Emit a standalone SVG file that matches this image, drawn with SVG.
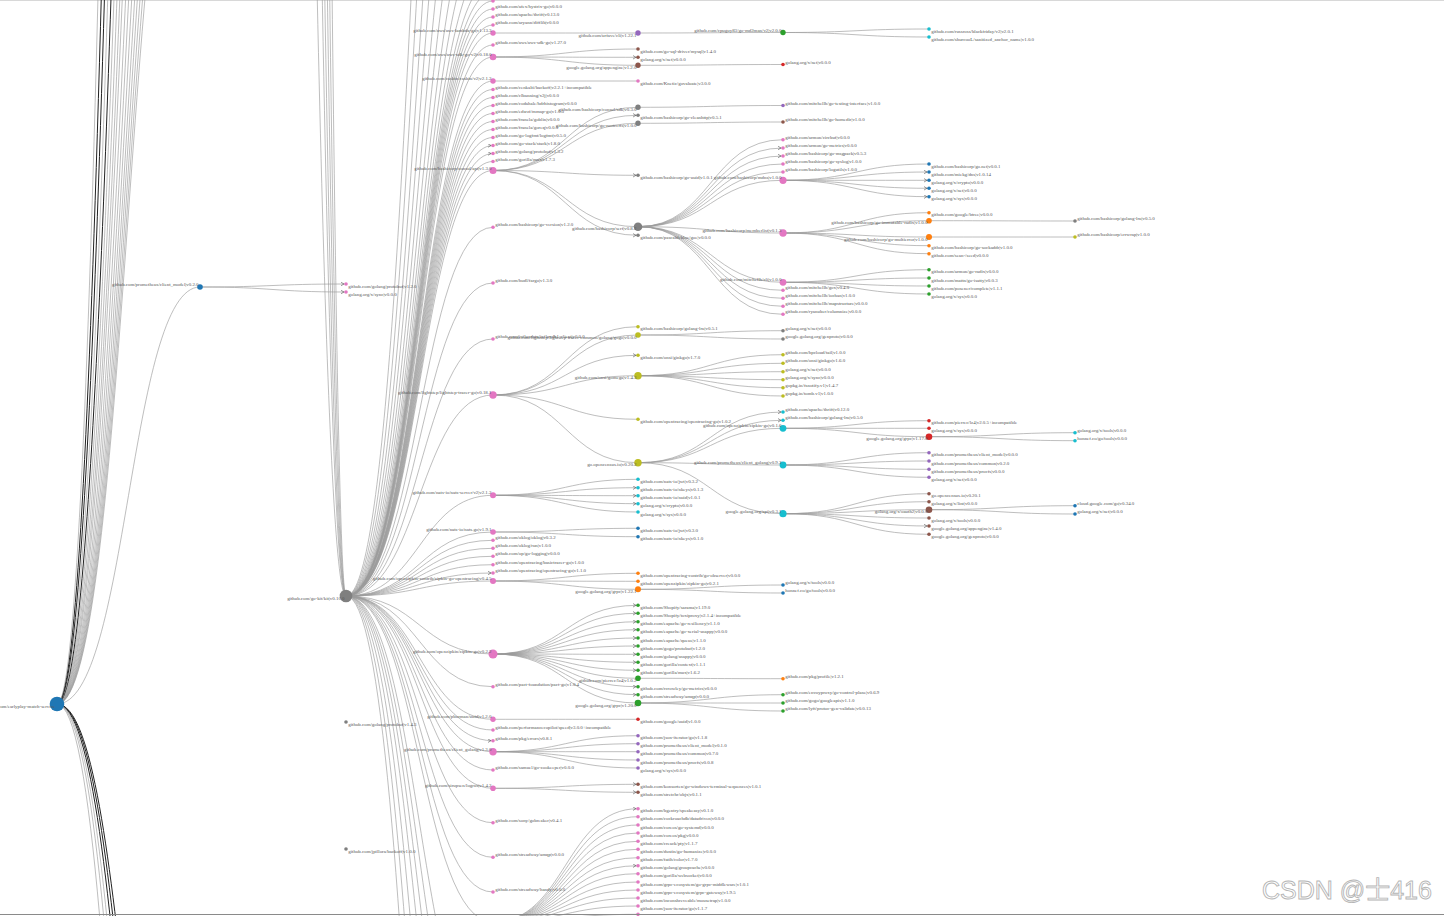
<svg xmlns="http://www.w3.org/2000/svg" width="1444" height="916" viewBox="0 0 1444 916">
<style>
.e{fill:none;stroke:#9a9a9a;stroke-width:.65}
.d{stroke:#222;stroke-width:1}
.ar{marker-end:url(#ar)}
text{font-family:"Liberation Serif",serif;font-size:4.9px;fill:#555}
.l{text-anchor:end}
.c0{fill:#1f77b4}.c1{fill:#ff7f0e}.c2{fill:#2ca02c}.c3{fill:#d62728}.c4{fill:#9467bd}
.c5{fill:#8c564b}.c6{fill:#e377c2}.c7{fill:#7f7f7f}.c8{fill:#bcbd22}.c9{fill:#17becf}
.wm{font-family:"Liberation Sans","Noto Sans CJK SC",sans-serif;font-size:25px;fill:#fff;stroke:#b5b5b5;stroke-width:.9}
</style>
<defs>
<marker id="ar" markerWidth="5" markerHeight="5" refX="5.5" refY="2" orient="auto" markerUnits="userSpaceOnUse"><path d="M0,0L3.5,2L0,4" fill="none" stroke="#555" stroke-width=".6"/></marker>
</defs>
<rect width="1444" height="916" fill="#fff"/>
<line x1="0" y1="0.5" x2="1444" y2="0.5" stroke="#d8d8d8"/>
<g id="links">
<path class="e" d="M57,704C128.5,704 128.5,287 200,287"/>
<path class="e" d="M57,704C128.5,704 128.5,-280 200,-280"/>
<path class="e" d="M57,704C128.5,704 128.5,-320 200,-320"/>
<path class="e" d="M57,704C128.5,704 128.5,-370 200,-370"/>
<path class="e" d="M57,704C128.5,704 128.5,-430 200,-430"/>
<path class="e" d="M57,704C128.5,704 128.5,-500 200,-500"/>
<path class="e" d="M57,704C128.5,704 128.5,-590 200,-590"/>
<path class="e" d="M57,704C128.5,704 128.5,-700 200,-700"/>
<path class="e" d="M57,704C128.5,704 128.5,-830 200,-830"/>
<path class="e" d="M57,704C128.5,704 128.5,-1000 200,-1000"/>
<path class="e" d="M57,704C128.5,704 128.5,-1150 200,-1150"/>
<path class="e" d="M57,704C128.5,704 128.5,-1350 200,-1350"/>
<path class="e" d="M57,704C128.5,704 128.5,-1600 200,-1600"/>
<path class="e d" d="M57,704C128.5,704 128.5,-1900 200,-1900"/>
<path class="e" d="M57,704C128.5,704 128.5,-2300 200,-2300"/>
<path class="e d" d="M57,704C128.5,704 128.5,-2800 200,-2800"/>
<path class="e d" d="M57,704C128.5,704 128.5,-3400 200,-3400"/>
<path class="e" d="M57,704C128.5,704 128.5,-4200 200,-4200"/>
<path class="e d" d="M57,704C128.5,704 128.5,1360 200,1360"/>
<path class="e d" d="M57,704C128.5,704 128.5,1430 200,1430"/>
<path class="e d" d="M57,704C128.5,704 128.5,1520 200,1520"/>
<path class="e" d="M57,704C128.5,704 128.5,1650 200,1650"/>
<path class="e" d="M57,704C128.5,704 128.5,1800 200,1800"/>
<path class="e" d="M57,704C128.5,704 128.5,2050 200,2050"/>
<path class="e" d="M200,-9000C273,-9000 273,596 346,596"/>
<path class="e" d="M200,-14000C273,-14000 273,596 346,596"/>
<path class="e" d="M200,-18000C273,-18000 273,596 346,596"/>
<path class="e" d="M200,-24000C273,-24000 273,596 346,596"/>
<path class="e" d="M200,-32000C273,-32000 273,596 346,596"/>
<path class="e" d="M200,-45000C273,-45000 273,596 346,596"/>
<path class="e ar" d="M200,287C273,287 273,284 346,284"/>
<path class="e ar" d="M200,287C273,287 273,292 346,292"/>
<path class="e" d="M346,596C419.5,596 419.5,-950 493,-950"/>
<path class="e" d="M346,596C419.5,596 419.5,-700 493,-700"/>
<path class="e" d="M346,596C419.5,596 419.5,-500 493,-500"/>
<path class="e" d="M346,596C419.5,596 419.5,-360 493,-360"/>
<path class="e" d="M346,596C419.5,596 419.5,-250 493,-250"/>
<path class="e" d="M346,596C419.5,596 419.5,-170 493,-170"/>
<path class="e" d="M346,596C419.5,596 419.5,-110 493,-110"/>
<path class="e" d="M346,596C419.5,596 419.5,-70 493,-70"/>
<path class="e" d="M346,596C419.5,596 419.5,-40 493,-40"/>
<path class="e" d="M346,596C419.5,596 419.5,-20 493,-20"/>
<path class="e" d="M346,596C419.5,596 419.5,-8 493,-8"/>
<path class="e" d="M346,596C419.5,596 419.5,1 493,1"/>
<path class="e" d="M346,596C419.5,596 419.5,9 493,9"/>
<path class="e" d="M346,596C419.5,596 419.5,17 493,17"/>
<path class="e" d="M346,596C419.5,596 419.5,25 493,25"/>
<path class="e" d="M346,596C419.5,596 419.5,33 493,33"/>
<path class="e" d="M346,596C419.5,596 419.5,45 493,45"/>
<path class="e" d="M346,596C419.5,596 419.5,57 493,57"/>
<path class="e" d="M346,596C419.5,596 419.5,81 493,81"/>
<path class="e" d="M346,596C419.5,596 419.5,89.5 493,89.5"/>
<path class="e" d="M346,596C419.5,596 419.5,97.5 493,97.5"/>
<path class="e" d="M346,596C419.5,596 419.5,105.5 493,105.5"/>
<path class="e" d="M346,596C419.5,596 419.5,113.5 493,113.5"/>
<path class="e" d="M346,596C419.5,596 419.5,121.5 493,121.5"/>
<path class="e" d="M346,596C419.5,596 419.5,129.5 493,129.5"/>
<path class="e" d="M346,596C419.5,596 419.5,137.5 493,137.5"/>
<path class="e ar" d="M346,596C419.5,596 419.5,145.5 493,145.5"/>
<path class="e ar" d="M346,596C419.5,596 419.5,153.5 493,153.5"/>
<path class="e" d="M346,596C419.5,596 419.5,161.5 493,161.5"/>
<path class="e" d="M346,596C419.5,596 419.5,170.5 493,170.5"/>
<path class="e" d="M346,596C419.5,596 419.5,227.3 493,227.3"/>
<path class="e" d="M346,596C419.5,596 419.5,283 493,283"/>
<path class="e" d="M346,596C419.5,596 419.5,339 493,339"/>
<path class="e" d="M346,596C419.5,596 419.5,395 493,395"/>
<path class="e" d="M346,596C419.5,596 419.5,495.3 493,495.3"/>
<path class="e" d="M346,596C419.5,596 419.5,532 493,532"/>
<path class="e" d="M346,596C419.5,596 419.5,540.3 493,540.3"/>
<path class="e" d="M346,596C419.5,596 419.5,548.3 493,548.3"/>
<path class="e" d="M346,596C419.5,596 419.5,556.3 493,556.3"/>
<path class="e" d="M346,596C419.5,596 419.5,564.7 493,564.7"/>
<path class="e ar" d="M346,596C419.5,596 419.5,573 493,573"/>
<path class="e" d="M346,596C419.5,596 419.5,581 493,581"/>
<path class="e" d="M346,596C419.5,596 419.5,654 493,654"/>
<path class="e" d="M346,596C419.5,596 419.5,686.7 493,686.7"/>
<path class="e" d="M346,596C419.5,596 419.5,719.3 493,719.3"/>
<path class="e" d="M346,596C419.5,596 419.5,730 493,730"/>
<path class="e ar" d="M346,596C419.5,596 419.5,740.7 493,740.7"/>
<path class="e" d="M346,596C419.5,596 419.5,751.7 493,751.7"/>
<path class="e" d="M346,596C419.5,596 419.5,770 493,770"/>
<path class="e" d="M346,596C419.5,596 419.5,788.3 493,788.3"/>
<path class="e" d="M346,596C419.5,596 419.5,822.7 493,822.7"/>
<path class="e" d="M346,596C419.5,596 419.5,857.3 493,857.3"/>
<path class="e" d="M346,596C419.5,596 419.5,892 493,892"/>
<path class="e" d="M346,596C419.5,596 419.5,922 493,922"/>
<path class="e" d="M346,596C419.5,596 419.5,1050 493,1050"/>
<path class="e" d="M346,596C419.5,596 419.5,1120 493,1120"/>
<path class="e" d="M346,596C419.5,596 419.5,1200 493,1200"/>
<path class="e" d="M346,596C419.5,596 419.5,1300 493,1300"/>
<path class="e" d="M346,596C419.5,596 419.5,1450 493,1450"/>
<path class="e" d="M346,596C419.5,596 419.5,1650 493,1650"/>
<path class="e" d="M346,596C419.5,596 419.5,1900 493,1900"/>
<path class="e" d="M493,33C565.5,33 565.5,33 638,33"/>
<path class="e" d="M493,57C565.5,57 565.5,49 638,49"/>
<path class="e ar" d="M493,57C565.5,57 565.5,57.3 638,57.3"/>
<path class="e" d="M493,57C565.5,57 565.5,65.3 638,65.3"/>
<path class="e" d="M493,81C565.5,81 565.5,81 638,81"/>
<path class="e" d="M493,170.5C565.5,170.5 565.5,107.3 638,107.3"/>
<path class="e ar" d="M493,170.5C565.5,170.5 565.5,115.3 638,115.3"/>
<path class="e" d="M493,170.5C565.5,170.5 565.5,123.3 638,123.3"/>
<path class="e ar" d="M493,170.5C565.5,170.5 565.5,175.3 638,175.3"/>
<path class="e" d="M493,170.5C565.5,170.5 565.5,226.7 638,226.7"/>
<path class="e ar" d="M493,170.5C565.5,170.5 565.5,235.3 638,235.3"/>
<path class="e" d="M493,395C565.5,395 565.5,326.7 638,326.7"/>
<path class="e" d="M493,395C565.5,395 565.5,335 638,335"/>
<path class="e ar" d="M493,395C565.5,395 565.5,355.3 638,355.3"/>
<path class="e" d="M493,395C565.5,395 565.5,375.7 638,375.7"/>
<path class="e" d="M493,395C565.5,395 565.5,419.3 638,419.3"/>
<path class="e" d="M493,395C565.5,395 565.5,462.7 638,462.7"/>
<path class="e" d="M493,495.3C565.5,495.3 565.5,479.3 638,479.3"/>
<path class="e ar" d="M493,495.3C565.5,495.3 565.5,487.7 638,487.7"/>
<path class="e ar" d="M493,495.3C565.5,495.3 565.5,495.7 638,495.7"/>
<path class="e ar" d="M493,495.3C565.5,495.3 565.5,503.7 638,503.7"/>
<path class="e" d="M493,495.3C565.5,495.3 565.5,512 638,512"/>
<path class="e" d="M493,532C565.5,532 565.5,528.3 638,528.3"/>
<path class="e" d="M493,532C565.5,532 565.5,536.7 638,536.7"/>
<path class="e" d="M493,581C565.5,581 565.5,573.3 638,573.3"/>
<path class="e" d="M493,581C565.5,581 565.5,581.3 638,581.3"/>
<path class="e" d="M493,581C565.5,581 565.5,589.3 638,589.3"/>
<path class="e ar" d="M493,654C565.5,654 565.5,605.3 638,605.3"/>
<path class="e ar" d="M493,654C565.5,654 565.5,613.3 638,613.3"/>
<path class="e ar" d="M493,654C565.5,654 565.5,621.7 638,621.7"/>
<path class="e ar" d="M493,654C565.5,654 565.5,629.7 638,629.7"/>
<path class="e ar" d="M493,654C565.5,654 565.5,638 638,638"/>
<path class="e ar" d="M493,654C565.5,654 565.5,646 638,646"/>
<path class="e ar" d="M493,654C565.5,654 565.5,654.3 638,654.3"/>
<path class="e ar" d="M493,654C565.5,654 565.5,662.3 638,662.3"/>
<path class="e ar" d="M493,654C565.5,654 565.5,670.3 638,670.3"/>
<path class="e" d="M493,654C565.5,654 565.5,678.3 638,678.3"/>
<path class="e ar" d="M493,654C565.5,654 565.5,686.7 638,686.7"/>
<path class="e ar" d="M493,654C565.5,654 565.5,694.7 638,694.7"/>
<path class="e" d="M493,654C565.5,654 565.5,703 638,703"/>
<path class="e" d="M493,719.3C565.5,719.3 565.5,719.3 638,719.3"/>
<path class="e" d="M493,751.7C565.5,751.7 565.5,735.7 638,735.7"/>
<path class="e" d="M493,751.7C565.5,751.7 565.5,743.7 638,743.7"/>
<path class="e" d="M493,751.7C565.5,751.7 565.5,751.7 638,751.7"/>
<path class="e" d="M493,751.7C565.5,751.7 565.5,760 638,760"/>
<path class="e" d="M493,751.7C565.5,751.7 565.5,768 638,768"/>
<path class="e ar" d="M493,788.3C565.5,788.3 565.5,784.3 638,784.3"/>
<path class="e ar" d="M493,788.3C565.5,788.3 565.5,792.3 638,792.3"/>
<path class="e ar" d="M493,922C565.5,922 565.5,808.7 638,808.7"/>
<path class="e" d="M493,922C565.5,922 565.5,816.7 638,816.7"/>
<path class="e" d="M493,922C565.5,922 565.5,825 638,825"/>
<path class="e" d="M493,922C565.5,922 565.5,833 638,833"/>
<path class="e" d="M493,922C565.5,922 565.5,841.3 638,841.3"/>
<path class="e" d="M493,922C565.5,922 565.5,849.3 638,849.3"/>
<path class="e" d="M493,922C565.5,922 565.5,857.7 638,857.7"/>
<path class="e ar" d="M493,922C565.5,922 565.5,865.7 638,865.7"/>
<path class="e" d="M493,922C565.5,922 565.5,873.7 638,873.7"/>
<path class="e" d="M493,922C565.5,922 565.5,882 638,882"/>
<path class="e" d="M493,922C565.5,922 565.5,890 638,890"/>
<path class="e" d="M493,922C565.5,922 565.5,898 638,898"/>
<path class="e" d="M493,922C565.5,922 565.5,906 638,906"/>
<path class="e" d="M493,922C565.5,922 565.5,914.3 638,914.3"/>
<path class="e" d="M493,922C565.5,922 565.5,922.5 638,922.5"/>
<path class="e" d="M638,33C710.5,33 710.5,32.5 783,32.5"/>
<path class="e" d="M638,65.3C710.5,65.3 710.5,64.5 783,64.5"/>
<path class="e" d="M638,107.3C710.5,107.3 710.5,105.5 783,105.5"/>
<path class="e" d="M638,123.3C710.5,123.3 710.5,122 783,122"/>
<path class="e" d="M638,226.7C710.5,226.7 710.5,139.7 783,139.7"/>
<path class="e ar" d="M638,226.7C710.5,226.7 710.5,148 783,148"/>
<path class="e ar" d="M638,226.7C710.5,226.7 710.5,156 783,156"/>
<path class="e" d="M638,226.7C710.5,226.7 710.5,164 783,164"/>
<path class="e" d="M638,226.7C710.5,226.7 710.5,172 783,172"/>
<path class="e" d="M638,226.7C710.5,226.7 710.5,180.3 783,180.3"/>
<path class="e" d="M638,226.7C710.5,226.7 710.5,233 783,233"/>
<path class="e" d="M638,226.7C710.5,226.7 710.5,282.3 783,282.3"/>
<path class="e" d="M638,226.7C710.5,226.7 710.5,290.3 783,290.3"/>
<path class="e" d="M638,226.7C710.5,226.7 710.5,298.3 783,298.3"/>
<path class="e" d="M638,226.7C710.5,226.7 710.5,306.3 783,306.3"/>
<path class="e" d="M638,226.7C710.5,226.7 710.5,314.3 783,314.3"/>
<path class="e" d="M638,335C710.5,335 710.5,330.7 783,330.7"/>
<path class="e" d="M638,335C710.5,335 710.5,339 783,339"/>
<path class="e" d="M638,375.7C710.5,375.7 710.5,354.7 783,354.7"/>
<path class="e" d="M638,375.7C710.5,375.7 710.5,363.3 783,363.3"/>
<path class="e" d="M638,375.7C710.5,375.7 710.5,371.7 783,371.7"/>
<path class="e" d="M638,375.7C710.5,375.7 710.5,379.7 783,379.7"/>
<path class="e" d="M638,375.7C710.5,375.7 710.5,387.7 783,387.7"/>
<path class="e" d="M638,375.7C710.5,375.7 710.5,396 783,396"/>
<path class="e ar" d="M638,462.7C710.5,462.7 710.5,412 783,412"/>
<path class="e ar" d="M638,462.7C710.5,462.7 710.5,420.3 783,420.3"/>
<path class="e" d="M638,462.7C710.5,462.7 710.5,428.3 783,428.3"/>
<path class="e" d="M638,462.7C710.5,462.7 710.5,465 783,465"/>
<path class="e" d="M638,462.7C710.5,462.7 710.5,513.7 783,513.7"/>
<path class="e" d="M638,589.3C710.5,589.3 710.5,585 783,585"/>
<path class="e" d="M638,589.3C710.5,589.3 710.5,593 783,593"/>
<path class="e" d="M638,678.3C710.5,678.3 710.5,678.7 783,678.7"/>
<path class="e" d="M638,703C710.5,703 710.5,694.7 783,694.7"/>
<path class="e" d="M638,703C710.5,703 710.5,703 783,703"/>
<path class="e" d="M638,703C710.5,703 710.5,711 783,711"/>
<path class="e" d="M783,32.5C856,32.5 856,29 929,29"/>
<path class="e" d="M783,32.5C856,32.5 856,37 929,37"/>
<path class="e" d="M783,180.3C856,180.3 856,164 929,164"/>
<path class="e ar" d="M783,180.3C856,180.3 856,172 929,172"/>
<path class="e ar" d="M783,180.3C856,180.3 856,180.3 929,180.3"/>
<path class="e ar" d="M783,180.3C856,180.3 856,188.3 929,188.3"/>
<path class="e ar" d="M783,180.3C856,180.3 856,196.7 929,196.7"/>
<path class="e" d="M783,233C856,233 856,212.7 929,212.7"/>
<path class="e" d="M783,233C856,233 856,220.7 929,220.7"/>
<path class="e" d="M783,233C856,233 856,237 929,237"/>
<path class="e" d="M783,233C856,233 856,245.7 929,245.7"/>
<path class="e" d="M783,233C856,233 856,253.7 929,253.7"/>
<path class="e" d="M783,282.3C856,282.3 856,269.7 929,269.7"/>
<path class="e" d="M783,282.3C856,282.3 856,278 929,278"/>
<path class="e" d="M783,282.3C856,282.3 856,286 929,286"/>
<path class="e" d="M783,282.3C856,282.3 856,294 929,294"/>
<path class="e" d="M783,428.3C856,428.3 856,420.7 929,420.7"/>
<path class="e" d="M783,428.3C856,428.3 856,428.3 929,428.3"/>
<path class="e" d="M783,428.3C856,428.3 856,436.7 929,436.7"/>
<path class="e" d="M783,465C856,465 856,452.7 929,452.7"/>
<path class="e" d="M783,465C856,465 856,461 929,461"/>
<path class="e" d="M783,465C856,465 856,469.3 929,469.3"/>
<path class="e" d="M783,465C856,465 856,477.3 929,477.3"/>
<path class="e" d="M783,513.7C856,513.7 856,493.7 929,493.7"/>
<path class="e" d="M783,513.7C856,513.7 856,501.7 929,501.7"/>
<path class="e" d="M783,513.7C856,513.7 856,509.7 929,509.7"/>
<path class="e" d="M783,513.7C856,513.7 856,518 929,518"/>
<path class="e ar" d="M783,513.7C856,513.7 856,526 929,526"/>
<path class="e" d="M783,513.7C856,513.7 856,534.3 929,534.3"/>
<path class="e" d="M929,220.7C1002,220.7 1002,221 1075,221"/>
<path class="e" d="M929,237C1002,237 1002,237 1075,237"/>
<path class="e" d="M929,436.7C1002,436.7 1002,432.7 1075,432.7"/>
<path class="e" d="M929,436.7C1002,436.7 1002,440.7 1075,440.7"/>
<path class="e" d="M929,509.7C1002,509.7 1002,505.7 1075,505.7"/>
<path class="e" d="M929,509.7C1002,509.7 1002,514 1075,514"/>
</g>
<g id="nodes">
<g id="root"><circle cx="57" cy="704" r="7.3" class="c0"/><text x="55" y="707.6" class="l">github.com/earlyplay-match-service</text></g>
<g id="cm"><circle cx="200" cy="287" r="2.8" class="c0"/><text x="198.5" y="286.1" class="l">github.com/prometheus/client_model|v0.2.0</text></g>
<g id="cm1"><circle cx="346" cy="284" r="1.8" class="c6"/><text x="348.3" y="287.7">github.com/golang/protobuf|v1.2.0</text></g>
<g id="cm2"><circle cx="346" cy="292" r="1.8" class="c6"/><text x="348.3" y="295.7">golang.org/x/sync|v0.0.0</text></g>
<g id="gokit"><circle cx="346" cy="596" r="6.3" class="c7"/><text x="344.5" y="599.7" class="l">github.com/go-kit/kit|v0.10.0</text></g>
<g id="pb"><circle cx="346" cy="722" r="1.8" class="c7"/><text x="348.3" y="725.7">github.com/golang/protobuf|v1.4.3</text></g>
<g id="bo"><circle cx="346" cy="849" r="1.8" class="c7"/><text x="348.3" y="852.7">github.com/jpillora/backoff|v1.0.0</text></g>

<g id="k0"><circle cx="493" cy="1" r="1.8" class="c6"/></g>
<g id="k1"><circle cx="493" cy="9" r="1.8" class="c6"/><text x="495.3" y="8.1">github.com/afex/hystrix-go|v0.0.0</text></g>
<g id="k2"><circle cx="493" cy="17" r="1.8" class="c6"/><text x="495.3" y="16.1">github.com/apache/thrift|v0.13.0</text></g>
<g id="k3"><circle cx="493" cy="25" r="1.8" class="c6"/><text x="495.3" y="24.1">github.com/aryann/difflib|v0.0.0</text></g>
<g id="k4"><circle cx="493" cy="33" r="2.7" class="c6"/><text x="491.5" y="32.1" class="l">github.com/aws/aws-lambda-go|v1.13.3</text></g>
<g id="k5"><circle cx="493" cy="45" r="1.8" class="c6"/><text x="495.3" y="44.1">github.com/aws/aws-sdk-go|v1.27.0</text></g>
<g id="k6"><circle cx="493" cy="57" r="3.3" class="c6"/><text x="491.5" y="56.1" class="l">github.com/aws/aws-sdk-go-v2|v0.18.0</text></g>
<g id="k7"><circle cx="493" cy="81" r="2.7" class="c6"/><text x="491.5" y="80.1" class="l">github.com/casbin/casbin/v2|v2.1.2</text></g>
<g id="k8"><circle cx="493" cy="89.5" r="1.8" class="c6"/><text x="495.3" y="88.6">github.com/cenkalti/backoff|v2.2.1+incompatible</text></g>
<g id="k9"><circle cx="493" cy="97.5" r="1.8" class="c6"/><text x="495.3" y="96.6">github.com/clbanning/x2j|v0.0.0</text></g>
<g id="k10"><circle cx="493" cy="105.5" r="1.8" class="c6"/><text x="495.3" y="104.6">github.com/codahale/hdrhistogram|v0.0.0</text></g>
<g id="k11"><circle cx="493" cy="113.5" r="1.8" class="c6"/><text x="495.3" y="112.6">github.com/edsrzf/mmap-go|v1.0.0</text></g>
<g id="k12"><circle cx="493" cy="121.5" r="1.8" class="c6"/><text x="495.3" y="120.6">github.com/franela/goblin|v0.0.0</text></g>
<g id="k13"><circle cx="493" cy="129.5" r="1.8" class="c6"/><text x="495.3" y="128.6">github.com/franela/goreq|v0.0.0</text></g>
<g id="k14"><circle cx="493" cy="137.5" r="1.8" class="c6"/><text x="495.3" y="136.6">github.com/go-logfmt/logfmt|v0.5.0</text></g>
<g id="k15"><circle cx="493" cy="145.5" r="1.8" class="c6"/><text x="495.3" y="144.6">github.com/go-stack/stack|v1.8.0</text></g>
<g id="k16"><circle cx="493" cy="153.5" r="1.8" class="c6"/><text x="495.3" y="152.6">github.com/golang/protobuf|v1.3.2</text></g>
<g id="k17"><circle cx="493" cy="161.5" r="1.8" class="c6"/><text x="495.3" y="160.6">github.com/gorilla/mux|v1.7.3</text></g>
<g id="k18"><circle cx="493" cy="170.5" r="3.5" class="c6"/><text x="491.5" y="169.6" class="l">github.com/hashicorp/consul/api|v1.3.0</text></g>
<g id="k19"><circle cx="493" cy="227.3" r="1.8" class="c6"/><text x="495.3" y="226.4">github.com/hashicorp/go-version|v1.2.0</text></g>
<g id="k20"><circle cx="493" cy="283" r="1.8" class="c6"/><text x="495.3" y="282.1">github.com/hudl/fargo|v1.3.0</text></g>
<g id="k21"><circle cx="493" cy="339" r="1.8" class="c6"/><text x="495.3" y="338.1">github.com/influxdata/influxdb1-client|v0.0.0</text></g>
<g id="k22"><circle cx="493" cy="395" r="3.7" class="c6"/><text x="491.5" y="394.1" class="l">github.com/lightstep/lightstep-tracer-go|v0.18.1</text></g>
<g id="k23"><circle cx="493" cy="495.3" r="3" class="c6"/><text x="491.5" y="494.4" class="l">github.com/nats-io/nats-server/v2|v2.1.2</text></g>
<g id="k24"><circle cx="493" cy="532" r="2.8" class="c6"/><text x="491.5" y="531.1" class="l">github.com/nats-io/nats.go|v1.9.1</text></g>
<g id="k25"><circle cx="493" cy="540.3" r="1.8" class="c6"/><text x="495.3" y="539.4">github.com/oklog/oklog|v0.3.2</text></g>
<g id="k26"><circle cx="493" cy="548.3" r="1.8" class="c6"/><text x="495.3" y="547.4">github.com/oklog/run|v1.0.0</text></g>
<g id="k27"><circle cx="493" cy="556.3" r="1.8" class="c6"/><text x="495.3" y="555.4">github.com/op/go-logging|v0.0.0</text></g>
<g id="k28"><circle cx="493" cy="564.7" r="1.8" class="c6"/><text x="495.3" y="563.8">github.com/opentracing/basictracer-go|v1.0.0</text></g>
<g id="k29"><circle cx="493" cy="573" r="1.8" class="c6"/><text x="495.3" y="572.1">github.com/opentracing/opentracing-go|v1.1.0</text></g>
<g id="k30"><circle cx="493" cy="581" r="3" class="c6"/><text x="491.5" y="580.1" class="l">github.com/openzipkin-contrib/zipkin-go-opentracing|v0.4.5</text></g>
<g id="k31"><circle cx="493" cy="654" r="4.5" class="c6"/><text x="491.5" y="653.1" class="l">github.com/openzipkin/zipkin-go|v0.2.2</text></g>
<g id="k32"><circle cx="493" cy="686.7" r="1.8" class="c6"/><text x="495.3" y="685.8">github.com/pact-foundation/pact-go|v1.0.4</text></g>
<g id="k33"><circle cx="493" cy="719.3" r="2.7" class="c6"/><text x="491.5" y="718.4" class="l">github.com/pborman/uuid|v1.2.0</text></g>
<g id="k34"><circle cx="493" cy="730" r="1.8" class="c6"/><text x="495.3" y="729.1">github.com/performancecopilot/speed|v3.0.0+incompatible</text></g>
<g id="k35"><circle cx="493" cy="740.7" r="1.8" class="c6"/><text x="495.3" y="739.8">github.com/pkg/errors|v0.8.1</text></g>
<g id="k36"><circle cx="493" cy="751.7" r="3.7" class="c6"/><text x="491.5" y="750.8" class="l">github.com/prometheus/client_golang|v1.3.0</text></g>
<g id="k37"><circle cx="493" cy="770" r="1.8" class="c6"/><text x="495.3" y="769.1">github.com/samuel/go-zookeeper|v0.0.0</text></g>
<g id="k38"><circle cx="493" cy="788.3" r="2.8" class="c6"/><text x="491.5" y="787.4" class="l">github.com/sirupsen/logrus|v1.4.2</text></g>
<g id="k39"><circle cx="493" cy="822.7" r="1.8" class="c6"/><text x="495.3" y="821.8">github.com/sony/gobreaker|v0.4.1</text></g>
<g id="k40"><circle cx="493" cy="857.3" r="1.8" class="c6"/><text x="495.3" y="856.4">github.com/streadway/amqp|v0.0.0</text></g>
<g id="k41"><circle cx="493" cy="892" r="1.8" class="c6"/><text x="495.3" y="891.1">github.com/streadway/handy|v0.0.0</text></g>

<g id="m1"><circle cx="638" cy="33" r="2.7" class="c4"/><text x="636.5" y="36.7" class="l">github.com/urfave/cli|v1.22.1</text></g>
<g id="m2"><circle cx="638" cy="49" r="1.8" class="c5"/><text x="640.3" y="52.7">github.com/go-sql-driver/mysql|v1.4.0</text></g>
<g id="m3"><circle cx="638" cy="57.3" r="1.8" class="c5"/><text x="640.3" y="61">golang.org/x/net|v0.0.0</text></g>
<g id="m4"><circle cx="638" cy="65.3" r="2.7" class="c5"/><text x="636.5" y="69" class="l">google.golang.org/appengine|v1.2.0</text></g>
<g id="m5"><circle cx="638" cy="81" r="1.8" class="c6"/><text x="640.3" y="84.7">github.com/Knetic/govaluate|v3.0.0</text></g>
<g id="m6"><circle cx="638" cy="107.3" r="2.7" class="c7"/><text x="636.5" y="111" class="l">github.com/hashicorp/consul/sdk|v0.3.0</text></g>
<g id="m7"><circle cx="638" cy="115.3" r="1.8" class="c7"/><text x="640.3" y="119">github.com/hashicorp/go-cleanhttp|v0.5.1</text></g>
<g id="m8"><circle cx="638" cy="123.3" r="2.7" class="c7"/><text x="636.5" y="127" class="l">github.com/hashicorp/go-rootcerts|v1.0.0</text></g>
<g id="m9"><circle cx="638" cy="175.3" r="1.8" class="c7"/><text x="640.3" y="179">github.com/hashicorp/go-uuid|v1.0.1</text></g>
<g id="m10"><circle cx="638" cy="226.7" r="4.3" class="c7"/><text x="636.5" y="230.4" class="l">github.com/hashicorp/serf|v0.8.2</text></g>
<g id="m11"><circle cx="638" cy="235.3" r="1.8" class="c7"/><text x="640.3" y="239">github.com/pascaldekloe/goe|v0.0.0</text></g>
<g id="m12"><circle cx="638" cy="326.7" r="1.8" class="c8"/><text x="640.3" y="330.4">github.com/hashicorp/golang-lru|v0.5.1</text></g>
<g id="m13"><circle cx="638" cy="335" r="2.8" class="c8"/><text x="636.5" y="338.7" class="l">github.com/lightstep/lightstep-tracer-common/golang/gogo|v0.0.0</text></g>
<g id="m14"><circle cx="638" cy="355.3" r="1.8" class="c8"/><text x="640.3" y="359">github.com/onsi/ginkgo|v1.7.0</text></g>
<g id="m15"><circle cx="638" cy="375.7" r="3.7" class="c8"/><text x="636.5" y="379.4" class="l">github.com/onsi/gomega|v1.4.3</text></g>
<g id="m16"><circle cx="638" cy="419.3" r="1.8" class="c8"/><text x="640.3" y="423">github.com/opentracing/opentracing-go|v1.0.2</text></g>
<g id="m17"><circle cx="638" cy="462.7" r="3.7" class="c8"/><text x="636.5" y="466.4" class="l">go.opencensus.io|v0.20.2</text></g>
<g id="m18"><circle cx="638" cy="479.3" r="1.8" class="c9"/><text x="640.3" y="483">github.com/nats-io/jwt|v0.3.2</text></g>
<g id="m19"><circle cx="638" cy="487.7" r="1.8" class="c9"/><text x="640.3" y="491.4">github.com/nats-io/nkeys|v0.1.3</text></g>
<g id="m20"><circle cx="638" cy="495.7" r="1.8" class="c9"/><text x="640.3" y="499.4">github.com/nats-io/nuid|v1.0.1</text></g>
<g id="m21"><circle cx="638" cy="503.7" r="1.8" class="c9"/><text x="640.3" y="507.4">golang.org/x/crypto|v0.0.0</text></g>
<g id="m22"><circle cx="638" cy="512" r="1.8" class="c9"/><text x="640.3" y="515.7">golang.org/x/sys|v0.0.0</text></g>
<g id="m23"><circle cx="638" cy="528.3" r="1.8" class="c0"/><text x="640.3" y="532">github.com/nats-io/jwt|v0.3.0</text></g>
<g id="m24"><circle cx="638" cy="536.7" r="1.8" class="c0"/><text x="640.3" y="540.4">github.com/nats-io/nkeys|v0.1.0</text></g>
<g id="m25"><circle cx="638" cy="573.3" r="1.8" class="c1"/><text x="640.3" y="577">github.com/opentracing-contrib/go-observer|v0.0.0</text></g>
<g id="m26"><circle cx="638" cy="581.3" r="1.8" class="c1"/><text x="640.3" y="585">github.com/openzipkin/zipkin-go|v0.2.1</text></g>
<g id="m27"><circle cx="638" cy="589.3" r="3" class="c1"/><text x="636.5" y="593" class="l">google.golang.org/grpc|v1.22.1</text></g>
<g id="m28"><circle cx="638" cy="605.3" r="1.8" class="c2"/><text x="640.3" y="609">github.com/Shopify/sarama|v1.19.0</text></g>
<g id="m29"><circle cx="638" cy="613.3" r="1.8" class="c2"/><text x="640.3" y="617">github.com/Shopify/toxiproxy|v2.1.4+incompatible</text></g>
<g id="m30"><circle cx="638" cy="621.7" r="1.8" class="c2"/><text x="640.3" y="625.4">github.com/eapache/go-resiliency|v1.1.0</text></g>
<g id="m31"><circle cx="638" cy="629.7" r="1.8" class="c2"/><text x="640.3" y="633.4">github.com/eapache/go-xerial-snappy|v0.0.0</text></g>
<g id="m32"><circle cx="638" cy="638" r="1.8" class="c2"/><text x="640.3" y="641.7">github.com/eapache/queue|v1.1.0</text></g>
<g id="m33"><circle cx="638" cy="646" r="1.8" class="c2"/><text x="640.3" y="649.7">github.com/gogo/protobuf|v1.2.0</text></g>
<g id="m34"><circle cx="638" cy="654.3" r="1.8" class="c2"/><text x="640.3" y="658">github.com/golang/snappy|v0.0.0</text></g>
<g id="m35"><circle cx="638" cy="662.3" r="1.8" class="c2"/><text x="640.3" y="666">github.com/gorilla/context|v1.1.1</text></g>
<g id="m36"><circle cx="638" cy="670.3" r="1.8" class="c2"/><text x="640.3" y="674">github.com/gorilla/mux|v1.6.2</text></g>
<g id="m37"><circle cx="638" cy="678.3" r="2.8" class="c2"/><text x="636.5" y="682" class="l">github.com/pierrec/lz4|v1.0.2</text></g>
<g id="m38"><circle cx="638" cy="686.7" r="1.8" class="c2"/><text x="640.3" y="690.4">github.com/rcrowley/go-metrics|v0.0.0</text></g>
<g id="m39"><circle cx="638" cy="694.7" r="1.8" class="c2"/><text x="640.3" y="698.4">github.com/streadway/amqp|v0.0.0</text></g>
<g id="m40"><circle cx="638" cy="703" r="3.3" class="c2"/><text x="636.5" y="706.7" class="l">google.golang.org/grpc|v1.20.0</text></g>
<g id="m41"><circle cx="638" cy="719.3" r="1.8" class="c3"/><text x="640.3" y="723">github.com/google/uuid|v1.0.0</text></g>
<g id="m42"><circle cx="638" cy="735.7" r="1.8" class="c4"/><text x="640.3" y="739.4">github.com/json-iterator/go|v1.1.8</text></g>
<g id="m43"><circle cx="638" cy="743.7" r="1.8" class="c4"/><text x="640.3" y="747.4">github.com/prometheus/client_model|v0.1.0</text></g>
<g id="m44"><circle cx="638" cy="751.7" r="1.8" class="c4"/><text x="640.3" y="755.4">github.com/prometheus/common|v0.7.0</text></g>
<g id="m45"><circle cx="638" cy="760" r="1.8" class="c4"/><text x="640.3" y="763.7">github.com/prometheus/procfs|v0.0.8</text></g>
<g id="m46"><circle cx="638" cy="768" r="1.8" class="c4"/><text x="640.3" y="771.7">golang.org/x/sys|v0.0.0</text></g>
<g id="m47"><circle cx="638" cy="784.3" r="1.8" class="c5"/><text x="640.3" y="788">github.com/konsorten/go-windows-terminal-sequences|v1.0.1</text></g>
<g id="m48"><circle cx="638" cy="792.3" r="1.8" class="c5"/><text x="640.3" y="796">github.com/stretchr/objx|v0.1.1</text></g>
<g id="m49"><circle cx="638" cy="808.7" r="1.8" class="c6"/><text x="640.3" y="812.4">github.com/bgentry/speakeasy|v0.1.0</text></g>
<g id="m50"><circle cx="638" cy="816.7" r="1.8" class="c6"/><text x="640.3" y="820.4">github.com/cockroachdb/datadriven|v0.0.0</text></g>
<g id="m51"><circle cx="638" cy="825" r="1.8" class="c6"/><text x="640.3" y="828.7">github.com/coreos/go-systemd|v0.0.0</text></g>
<g id="m52"><circle cx="638" cy="833" r="1.8" class="c6"/><text x="640.3" y="836.7">github.com/coreos/pkg|v0.0.0</text></g>
<g id="m53"><circle cx="638" cy="841.3" r="1.8" class="c6"/><text x="640.3" y="845">github.com/creack/pty|v1.1.7</text></g>
<g id="m54"><circle cx="638" cy="849.3" r="1.8" class="c6"/><text x="640.3" y="853">github.com/dustin/go-humanize|v0.0.0</text></g>
<g id="m55"><circle cx="638" cy="857.7" r="1.8" class="c6"/><text x="640.3" y="861.4">github.com/fatih/color|v1.7.0</text></g>
<g id="m56"><circle cx="638" cy="865.7" r="1.8" class="c6"/><text x="640.3" y="869.4">github.com/golang/groupcache|v0.0.0</text></g>
<g id="m57"><circle cx="638" cy="873.7" r="1.8" class="c6"/><text x="640.3" y="877.4">github.com/gorilla/websocket|v0.0.0</text></g>
<g id="m58"><circle cx="638" cy="882" r="1.8" class="c6"/><text x="640.3" y="885.7">github.com/grpc-ecosystem/go-grpc-middleware|v1.0.1</text></g>
<g id="m59"><circle cx="638" cy="890" r="1.8" class="c6"/><text x="640.3" y="893.7">github.com/grpc-ecosystem/grpc-gateway|v1.9.5</text></g>
<g id="m60"><circle cx="638" cy="898" r="1.8" class="c6"/><text x="640.3" y="901.7">github.com/inconshreveable/mousetrap|v1.0.0</text></g>
<g id="m61"><circle cx="638" cy="906" r="1.8" class="c6"/><text x="640.3" y="909.7">github.com/json-iterator/go|v1.1.7</text></g>
<g id="m62"><circle cx="638" cy="914.3" r="1.8" class="c6"/></g>

<g id="p1"><circle cx="783" cy="32.5" r="2.7" class="c2"/><text x="781.5" y="31.6" class="l">github.com/cpuguy83/go-md2man/v2|v2.0.0</text></g>
<g id="p2"><circle cx="783" cy="64.5" r="1.8" class="c3"/><text x="785.3" y="63.6">golang.org/x/net|v0.0.0</text></g>
<g id="p3"><circle cx="783" cy="105.5" r="1.8" class="c4"/><text x="785.3" y="104.6">github.com/mitchellh/go-testing-interface|v1.0.0</text></g>
<g id="p4"><circle cx="783" cy="122" r="1.8" class="c5"/><text x="785.3" y="121.1">github.com/mitchellh/go-homedir|v1.0.0</text></g>
<g id="p5"><circle cx="783" cy="139.7" r="1.8" class="c6"/><text x="785.3" y="138.8">github.com/armon/circbuf|v0.0.0</text></g>
<g id="p6"><circle cx="783" cy="148" r="1.8" class="c6"/><text x="785.3" y="147.1">github.com/armon/go-metrics|v0.0.0</text></g>
<g id="p7"><circle cx="783" cy="156" r="1.8" class="c6"/><text x="785.3" y="155.1">github.com/hashicorp/go-msgpack|v0.5.3</text></g>
<g id="p8"><circle cx="783" cy="164" r="1.8" class="c6"/><text x="785.3" y="163.1">github.com/hashicorp/go-syslog|v1.0.0</text></g>
<g id="p9"><circle cx="783" cy="172" r="1.8" class="c6"/><text x="785.3" y="171.1">github.com/hashicorp/logutils|v1.0.0</text></g>
<g id="p10"><circle cx="783" cy="180.3" r="3.6" class="c6"/><text x="781.5" y="179.4" class="l">github.com/hashicorp/mdns|v1.0.0</text></g>
<g id="p11"><circle cx="783" cy="233" r="3.7" class="c6"/><text x="781.5" y="232.1" class="l">github.com/hashicorp/memberlist|v0.1.3</text></g>
<g id="p12"><circle cx="783" cy="282.3" r="3.4" class="c6"/><text x="781.5" y="281.4" class="l">github.com/mitchellh/cli|v1.0.0</text></g>
<g id="p13"><circle cx="783" cy="290.3" r="1.8" class="c6"/><text x="785.3" y="289.4">github.com/mitchellh/gox|v0.4.0</text></g>
<g id="p14"><circle cx="783" cy="298.3" r="1.8" class="c6"/><text x="785.3" y="297.4">github.com/mitchellh/iochan|v1.0.0</text></g>
<g id="p15"><circle cx="783" cy="306.3" r="1.8" class="c6"/><text x="785.3" y="305.4">github.com/mitchellh/mapstructure|v0.0.0</text></g>
<g id="p16"><circle cx="783" cy="314.3" r="1.8" class="c6"/><text x="785.3" y="313.4">github.com/ryanuber/columnize|v0.0.0</text></g>
<g id="p17"><circle cx="783" cy="330.7" r="1.8" class="c7"/><text x="785.3" y="329.8">golang.org/x/net|v0.0.0</text></g>
<g id="p18"><circle cx="783" cy="339" r="1.8" class="c7"/><text x="785.3" y="338.1">google.golang.org/genproto|v0.0.0</text></g>
<g id="p19"><circle cx="783" cy="354.7" r="1.8" class="c8"/><text x="785.3" y="353.8">github.com/hpcloud/tail|v1.0.0</text></g>
<g id="p20"><circle cx="783" cy="363.3" r="1.8" class="c8"/><text x="785.3" y="362.4">github.com/onsi/ginkgo|v1.6.0</text></g>
<g id="p21"><circle cx="783" cy="371.7" r="1.8" class="c8"/><text x="785.3" y="370.8">golang.org/x/net|v0.0.0</text></g>
<g id="p22"><circle cx="783" cy="379.7" r="1.8" class="c8"/><text x="785.3" y="378.8">golang.org/x/sync|v0.0.0</text></g>
<g id="p23"><circle cx="783" cy="387.7" r="1.8" class="c8"/><text x="785.3" y="386.8">gopkg.in/fsnotify.v1|v1.4.7</text></g>
<g id="p24"><circle cx="783" cy="396" r="1.8" class="c8"/><text x="785.3" y="395.1">gopkg.in/tomb.v1|v1.0.0</text></g>
<g id="p25"><circle cx="783" cy="412" r="1.8" class="c9"/><text x="785.3" y="411.1">github.com/apache/thrift|v0.12.0</text></g>
<g id="p26"><circle cx="783" cy="420.3" r="1.8" class="c9"/><text x="785.3" y="419.4">github.com/hashicorp/golang-lru|v0.5.0</text></g>
<g id="p27"><circle cx="783" cy="428.3" r="3.4" class="c9"/><text x="781.5" y="427.4" class="l">github.com/openzipkin/zipkin-go|v0.1.6</text></g>
<g id="p28"><circle cx="783" cy="465" r="3.4" class="c9"/><text x="781.5" y="464.1" class="l">github.com/prometheus/client_golang|v0.9.3</text></g>
<g id="p29"><circle cx="783" cy="513.7" r="3.6" class="c9"/><text x="781.5" y="512.8" class="l">google.golang.org/api|v0.3.1</text></g>
<g id="p30"><circle cx="783" cy="585" r="1.8" class="c0"/><text x="785.3" y="584.1">golang.org/x/tools|v0.0.0</text></g>
<g id="p31"><circle cx="783" cy="593" r="1.8" class="c0"/><text x="785.3" y="592.1">honnef.co/go/tools|v0.0.0</text></g>
<g id="p32"><circle cx="783" cy="678.7" r="1.8" class="c1"/><text x="785.3" y="677.8">github.com/pkg/profile|v1.2.1</text></g>
<g id="p33"><circle cx="783" cy="694.7" r="1.8" class="c2"/><text x="785.3" y="693.8">github.com/envoyproxy/go-control-plane|v0.6.9</text></g>
<g id="p34"><circle cx="783" cy="703" r="1.8" class="c2"/><text x="785.3" y="702.1">github.com/gogo/googleapis|v1.1.0</text></g>
<g id="p35"><circle cx="783" cy="711" r="1.8" class="c2"/><text x="785.3" y="710.1">github.com/lyft/protoc-gen-validate|v0.0.13</text></g>

<g id="q1"><circle cx="929" cy="29" r="1.8" class="c9"/><text x="931.3" y="32.7">github.com/russross/blackfriday/v2|v2.0.1</text></g>
<g id="q2"><circle cx="929" cy="37" r="1.8" class="c9"/><text x="931.3" y="40.7">github.com/shurcooL/sanitized_anchor_name|v1.0.0</text></g>
<g id="q3"><circle cx="929" cy="164" r="1.8" class="c0"/><text x="931.3" y="167.7">github.com/hashicorp/go.net|v0.0.1</text></g>
<g id="q4"><circle cx="929" cy="172" r="1.8" class="c0"/><text x="931.3" y="175.7">github.com/miekg/dns|v1.0.14</text></g>
<g id="q5"><circle cx="929" cy="180.3" r="1.8" class="c0"/><text x="931.3" y="184">golang.org/x/crypto|v0.0.0</text></g>
<g id="q6"><circle cx="929" cy="188.3" r="1.8" class="c0"/><text x="931.3" y="192">golang.org/x/net|v0.0.0</text></g>
<g id="q7"><circle cx="929" cy="196.7" r="1.8" class="c0"/><text x="931.3" y="200.4">golang.org/x/sys|v0.0.0</text></g>
<g id="q8"><circle cx="929" cy="212.7" r="1.8" class="c1"/><text x="931.3" y="216.4">github.com/google/btree|v0.0.0</text></g>
<g id="q9"><circle cx="929" cy="220.7" r="2.8" class="c1"/><text x="927.5" y="224.4" class="l">github.com/hashicorp/go-immutable-radix|v1.0.0</text></g>
<g id="q10"><circle cx="929" cy="237" r="3" class="c1"/><text x="927.5" y="240.7" class="l">github.com/hashicorp/go-multierror|v1.0.0</text></g>
<g id="q11"><circle cx="929" cy="245.7" r="1.8" class="c1"/><text x="931.3" y="249.4">github.com/hashicorp/go-sockaddr|v1.0.0</text></g>
<g id="q12"><circle cx="929" cy="253.7" r="1.8" class="c1"/><text x="931.3" y="257.4">github.com/sean-/seed|v0.0.0</text></g>
<g id="q13"><circle cx="929" cy="269.7" r="1.8" class="c2"/><text x="931.3" y="273.4">github.com/armon/go-radix|v0.0.0</text></g>
<g id="q14"><circle cx="929" cy="278" r="1.8" class="c2"/><text x="931.3" y="281.7">github.com/mattn/go-isatty|v0.0.3</text></g>
<g id="q15"><circle cx="929" cy="286" r="1.8" class="c2"/><text x="931.3" y="289.7">github.com/posener/complete|v1.1.1</text></g>
<g id="q16"><circle cx="929" cy="294" r="1.8" class="c2"/><text x="931.3" y="297.7">golang.org/x/sys|v0.0.0</text></g>
<g id="q17"><circle cx="929" cy="420.7" r="1.8" class="c3"/><text x="931.3" y="424.4">github.com/pierrec/lz4|v2.0.5+incompatible</text></g>
<g id="q18"><circle cx="929" cy="428.3" r="1.8" class="c3"/><text x="931.3" y="432">golang.org/x/sys|v0.0.0</text></g>
<g id="q19"><circle cx="929" cy="436.7" r="3.3" class="c3"/><text x="927.5" y="440.4" class="l">google.golang.org/grpc|v1.17.0</text></g>
<g id="q20"><circle cx="929" cy="452.7" r="1.8" class="c4"/><text x="931.3" y="456.4">github.com/prometheus/client_model|v0.0.0</text></g>
<g id="q21"><circle cx="929" cy="461" r="1.8" class="c4"/><text x="931.3" y="464.7">github.com/prometheus/common|v0.2.0</text></g>
<g id="q22"><circle cx="929" cy="469.3" r="1.8" class="c4"/><text x="931.3" y="473">github.com/prometheus/procfs|v0.0.0</text></g>
<g id="q23"><circle cx="929" cy="477.3" r="1.8" class="c4"/><text x="931.3" y="481">golang.org/x/net|v0.0.0</text></g>
<g id="q24"><circle cx="929" cy="493.7" r="1.8" class="c5"/><text x="931.3" y="497.4">go.opencensus.io|v0.20.1</text></g>
<g id="q25"><circle cx="929" cy="501.7" r="1.8" class="c5"/><text x="931.3" y="505.4">golang.org/x/lint|v0.0.0</text></g>
<g id="q26"><circle cx="929" cy="509.7" r="3.3" class="c5"/><text x="927.5" y="513.4" class="l">golang.org/x/oauth2|v0.0.0</text></g>
<g id="q27"><circle cx="929" cy="518" r="1.8" class="c5"/><text x="931.3" y="521.7">golang.org/x/tools|v0.0.0</text></g>
<g id="q28"><circle cx="929" cy="526" r="1.8" class="c5"/><text x="931.3" y="529.7">google.golang.org/appengine|v1.4.0</text></g>
<g id="q29"><circle cx="929" cy="534.3" r="1.8" class="c5"/><text x="931.3" y="538">google.golang.org/genproto|v0.0.0</text></g>

<g id="r1"><circle cx="1075" cy="221" r="1.8" class="c7"/><text x="1077.3" y="220.1">github.com/hashicorp/golang-lru|v0.5.0</text></g>
<g id="r2"><circle cx="1075" cy="237" r="1.8" class="c8"/><text x="1077.3" y="236.1">github.com/hashicorp/errwrap|v1.0.0</text></g>
<g id="r3"><circle cx="1075" cy="432.7" r="1.8" class="c9"/><text x="1077.3" y="431.8">golang.org/x/tools|v0.0.0</text></g>
<g id="r4"><circle cx="1075" cy="440.7" r="1.8" class="c9"/><text x="1077.3" y="439.8">honnef.co/go/tools|v0.0.0</text></g>
<g id="r5"><circle cx="1075" cy="505.7" r="1.8" class="c0"/><text x="1077.3" y="504.8">cloud.google.com/go|v0.34.0</text></g>
<g id="r6"><circle cx="1075" cy="514" r="1.8" class="c0"/><text x="1077.3" y="513.1">golang.org/x/net|v0.0.0</text></g>
</g>
<line x1="0" y1="914.5" x2="1444" y2="914.5" stroke="#8a8a8a" stroke-width="1"/>
<text class="wm" x="1262" y="899">CSDN @士416</text>
</svg>
